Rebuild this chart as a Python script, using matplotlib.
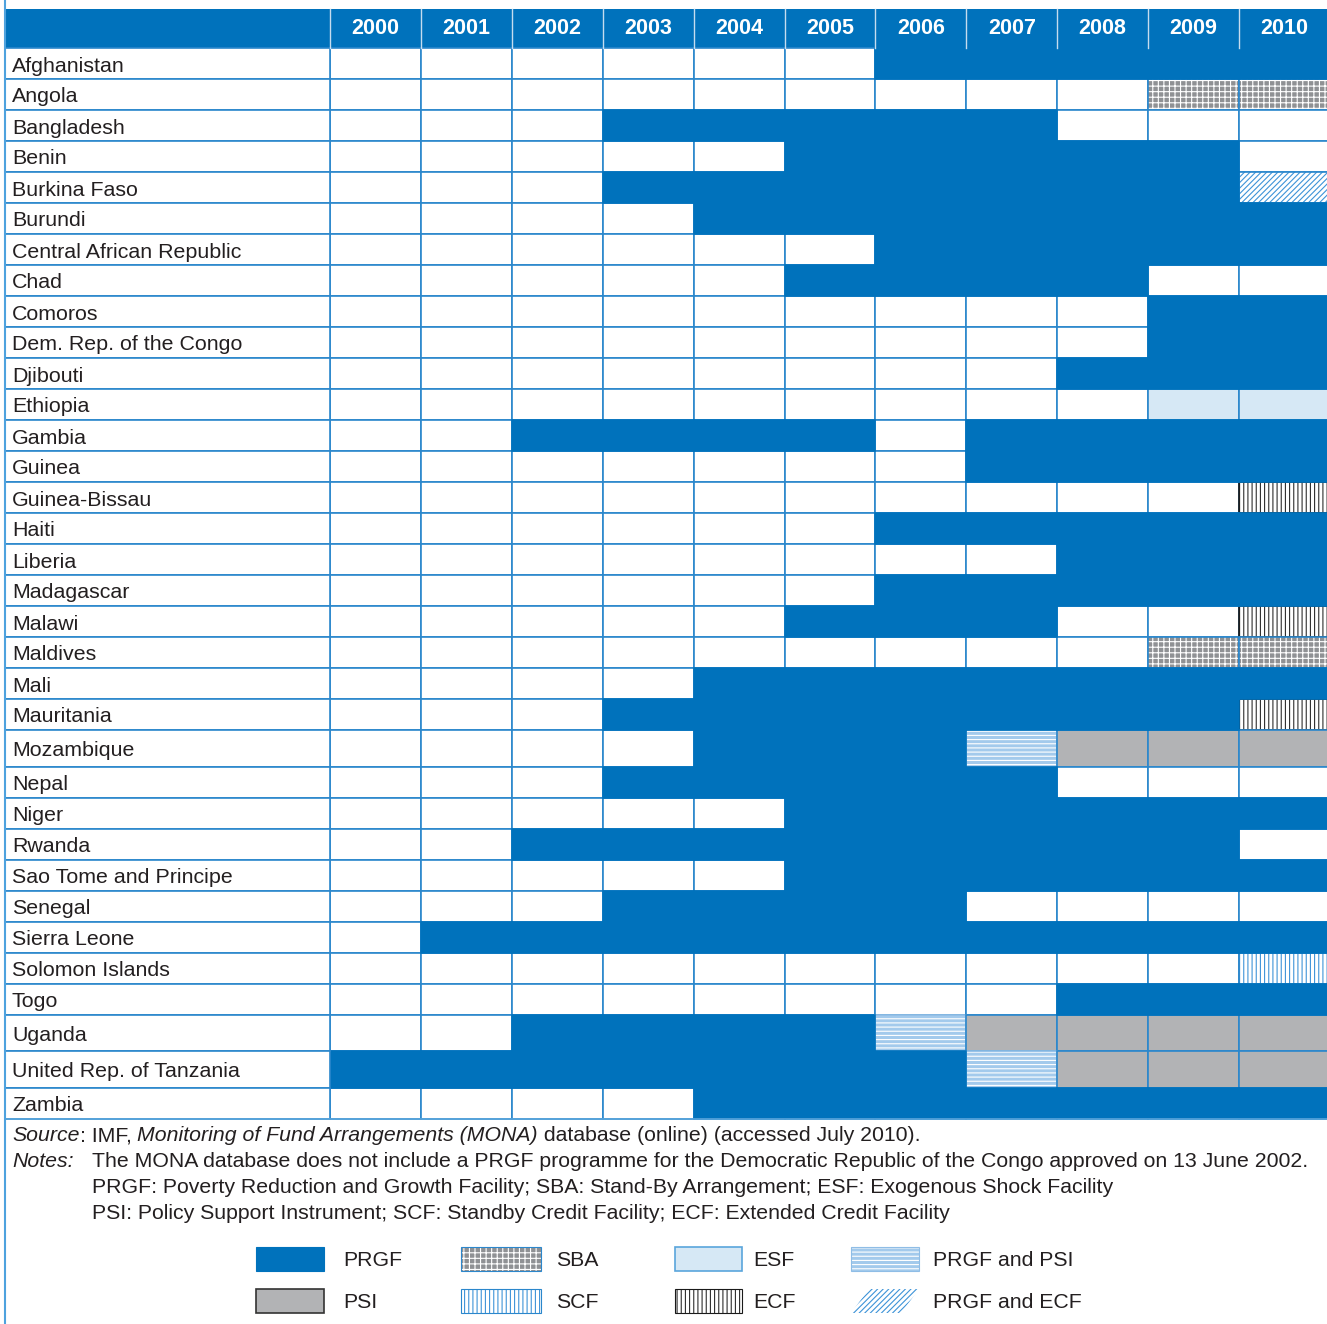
import matplotlib

matplotlib.use("Agg")
import matplotlib.pyplot as plt
from matplotlib.patches import Polygon, Rectangle

plt.rcParams["font.family"] = ["Liberation Sans", "DejaVu Sans"]
plt.rcParams["hatch.linewidth"] = 0.8

# ---- data -----------------------------------------------------------------
years = ["2000", "2001", "2002", "2003", "2004", "2005",
         "2006", "2007", "2008", "2009", "2010"]

countries = [
    "Afghanistan", "Angola", "Bangladesh", "Benin", "Burkina Faso", "Burundi",
    "Central African Republic", "Chad", "Comoros", "Dem. Rep. of the Congo",
    "Djibouti", "Ethiopia", "Gambia", "Guinea", "Guinea-Bissau", "Haiti",
    "Liberia", "Madagascar", "Malawi", "Maldives", "Mali", "Mauritania",
    "Mozambique", "Nepal", "Niger", "Rwanda", "Sao Tome and Principe",
    "Senegal", "Sierra Leone", "Solomon Islands", "Togo", "Uganda",
    "United Rep. of Tanzania", "Zambia",
]

# one character per year, 2000..2010
# . none, P PRGF, I PSI, S SBA, C SCF, E ESF, X ECF, Q PRGF and PSI, Z PRGF and ECF
programmes = [
    "......PPPPP",  # Afghanistan
    ".........SS",  # Angola
    "...PPPPP...",  # Bangladesh
    ".....PPPPP.",  # Benin
    "...PPPPPPPZ",  # Burkina Faso
    "....PPPPPPP",  # Burundi
    "......PPPPP",  # Central African Republic
    ".....PPPP..",  # Chad
    ".........PP",  # Comoros
    ".........PP",  # Dem. Rep. of the Congo
    "........PPP",  # Djibouti
    ".........EE",  # Ethiopia
    "..PPPP.PPPP",  # Gambia
    ".......PPPP",  # Guinea
    "..........X",  # Guinea-Bissau
    "......PPPPP",  # Haiti
    "........PPP",  # Liberia
    "......PPPPP",  # Madagascar
    ".....PPP..X",  # Malawi
    ".........SS",  # Maldives
    "....PPPPPPP",  # Mali
    "...PPPPPPPX",  # Mauritania
    "....PPPQIII",  # Mozambique
    "...PPPPP...",  # Nepal
    ".....PPPPPP",  # Niger
    "..PPPPPPPP.",  # Rwanda
    ".....PPPPPP",  # Sao Tome and Principe
    "...PPPP....",  # Senegal
    ".PPPPPPPPPP",  # Sierra Leone
    "..........C",  # Solomon Islands
    "........PPP",  # Togo
    "..PPPPQIIII",  # Uganda
    "PPPPPPPQIII",  # United Rep. of Tanzania
    "....PPPPPPP",  # Zambia
]

legend_codes = ["P", "S", "E", "Q", "I", "C", "X", "Z"]
legend_labels = ["PRGF", "SBA", "ESF", "PRGF and PSI",
                 "PSI", "SCF", "ECF", "PRGF and ECF"]

source_parts = [
    ("Source", "italic"), (": IMF, ", "normal"),
    ("Monitoring of Fund Arrangements (MONA)", "italic"),
    (" database (online) (accessed July 2010).", "normal"),
]
notes_lines = [
    "The MONA database does not include a PRGF programme for the Democratic "
    "Republic of the Congo approved on 13 June 2002.",
    "PRGF: Poverty Reduction and Growth Facility; SBA: Stand-By Arrangement; "
    "ESF: Exogenous Shock Facility",
    "PSI: Policy Support Instrument; SCF: Standby Credit Facility; "
    "ECF: Extended Credit Facility",
]

# ---- styles / layout ------------------------------------------------------
BLUE = "#0072bc"
GRID = "#2b87cc"
TEXT = "#231f20"

STYLES = {
    ".": dict(face="white", hatch=None, hcolor=None, border=GRID),
    "P": dict(face=BLUE, hatch=None, hcolor=None, border=BLUE),
    "I": dict(face="#b2b3b5", hatch=None, hcolor=None, border=GRID),
    "E": dict(face="#d6e8f5", hatch=None, hcolor=None, border=GRID),
    "S": dict(face="#8f9194", hatch="+++", hcolor="white", border=GRID),
    "C": dict(face="white", hatch="||||", hcolor="#3f94d8", border=GRID),
    "X": dict(face="white", hatch="||||", hcolor="#2e2e2e", border="#1a1a1a"),
    "Q": dict(face="#a3caec", hatch="----", hcolor="white", border="#8fbde6"),
    "Z": dict(face="white", hatch="//////", hcolor="#3d93d8", border=GRID),
}

W, H = 1327, 1324
LEFT = 5
NAME_W = 325
COL_W = 90.9
HEAD_TOP, HEAD_BOT = 9, 48
ROW_H, TALL_H = 31.0, 36.5
tall_rows = {"Mozambique", "Uganda", "United Rep. of Tanzania"}
NOTE_FS = 15.3

fig = plt.figure(figsize=(W / 100, H / 100), dpi=100)
ax = fig.add_axes([0, 0, 1, 1])
ax.set_xlim(0, W)
ax.set_ylim(H, 0)
ax.axis("off")


def draw_cell(code, x, y, w, h, lw=1.2):
    st = STYLES[code]
    if st["hatch"]:
        ax.add_patch(Rectangle((x, y), w, h, facecolor=st["face"],
                               edgecolor=st["hcolor"], hatch=st["hatch"], lw=0))
        ax.add_patch(Rectangle((x, y), w, h, fill=False,
                               edgecolor=st["border"], lw=lw))
    else:
        ax.add_patch(Rectangle((x, y), w, h, facecolor=st["face"],
                               edgecolor=st["border"], lw=lw))


# header
ax.add_patch(Rectangle((LEFT, HEAD_TOP), W - LEFT, HEAD_BOT - HEAD_TOP,
                       facecolor=BLUE, edgecolor="none"))
for j, yr in enumerate(years):
    x0 = LEFT + NAME_W + j * COL_W
    ax.plot([x0, x0], [HEAD_TOP, HEAD_BOT], color="#c5dcef", lw=1.0)
    ax.text(x0 + COL_W / 2, (HEAD_TOP + HEAD_BOT) / 2, yr, color="white",
            fontsize=15.5, fontweight="bold", ha="center", va="center")

# body
y = HEAD_BOT
row_pos = []
for name in countries:
    h = TALL_H if name in tall_rows else ROW_H
    row_pos.append((y, h))
    y += h
table_bottom = y

for pass_codes in (lambda c: c != "P", lambda c: c == "P"):
    for (y0, h), codes in zip(row_pos, programmes):
        for j, c in enumerate(codes):
            if pass_codes(c):
                draw_cell(c, LEFT + NAME_W + j * COL_W, y0, COL_W, h)

for (y0, h), name in zip(row_pos, countries):
    ax.add_patch(Rectangle((LEFT, y0), NAME_W, h, facecolor="white",
                           edgecolor=GRID, lw=1.2))
    ax.text(LEFT + 7, y0 + h / 2 + 2.5, name, fontsize=15.4, color=TEXT,
            ha="left", va="center")

ax.plot([LEFT, W], [table_bottom, table_bottom], color="#5aa5dc", lw=1.2)
ax.plot([LEFT, LEFT], [0, H], color="#4ea2de", lw=1.5)

# source and notes
fig.canvas.draw()
renderer = fig.canvas.get_renderer()
inv = ax.transData.inverted()
x = 12
for txt, style in source_parts:
    t = ax.text(x, table_bottom + 17, txt, fontsize=NOTE_FS, style=style,
                color=TEXT, ha="left", va="center")
    bb = t.get_window_extent(renderer)
    x = inv.transform((bb.x1, bb.y0))[0]

ax.text(12, table_bottom + 43, "Notes:", fontsize=NOTE_FS, style="italic",
        color=TEXT, ha="left", va="center")
for i, line in enumerate(notes_lines):
    ax.text(92, table_bottom + 43 + i * 26, line, fontsize=NOTE_FS, color=TEXT,
            ha="left", va="center")

# legend
leg_box_x = [256, 461, 675, 851]
leg_box_w = [68, 80, 67, 68]
leg_text_x = [343, 556, 753, 933]
leg_rows_y = [1247, 1289]
LEG_H = 24
for k, (code, label) in enumerate(zip(legend_codes, legend_labels)):
    r, c = divmod(k, 4)
    bx, by, bw = leg_box_x[c], leg_rows_y[r], leg_box_w[c]
    if code == "Z":
        st = STYLES[code]
        ax.add_patch(Polygon([(bx, by + LEG_H), (bx + 18, by), (bx + bw, by),
                              (bx + bw - 18, by + LEG_H)], closed=True,
                             facecolor="white", edgecolor=st["hcolor"],
                             hatch=st["hatch"], lw=0))
    elif code == "I":
        ax.add_patch(Rectangle((bx, by), bw, LEG_H, facecolor=STYLES[code]["face"],
                               edgecolor="#333333", lw=1.2))
    elif code == "E":
        ax.add_patch(Rectangle((bx, by), bw, LEG_H, facecolor=STYLES[code]["face"],
                               edgecolor="#5aa5dc", lw=1.2))
    else:
        draw_cell(code, bx, by, bw, LEG_H, lw=0.8)
    ax.text(leg_text_x[c], by + LEG_H / 2 + 1, label, fontsize=15.3, color=TEXT,
            ha="left", va="center")

fig.savefig("out.png", dpi=100)
